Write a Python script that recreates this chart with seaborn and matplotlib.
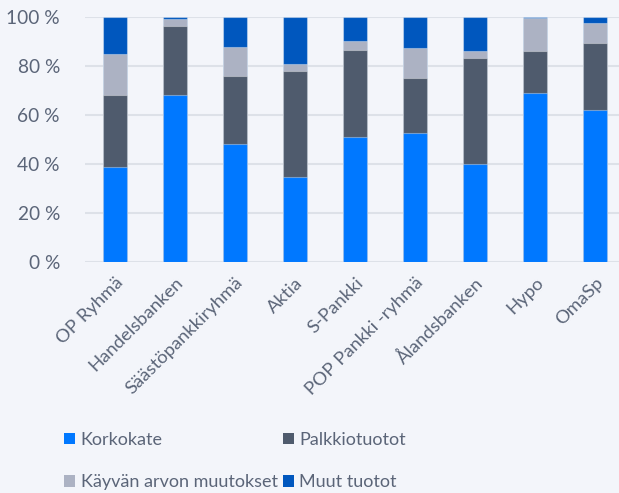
import numpy as np
import pandas as pd
import matplotlib
matplotlib.use("Agg")
import matplotlib.pyplot as plt
import seaborn as sns
from matplotlib.patches import Patch

banks = ["OP Ryhmä", "Handelsbanken", "Säästöpankkiryhmä", "Aktia", "S-Pankki",
         "POP Pankki -ryhmä", "Ålandsbanken", "Hypo", "OmaSp"]
korkokate = [38.8, 68.3, 48.2, 34.8, 51.0, 52.5, 39.9, 69.1, 61.9]
palkkiotuotot = [29.2, 28.2, 27.8, 43.3, 35.7, 22.6, 43.4, 17.0, 27.4]
kayvan_arvon = [16.9, 2.6, 11.8, 2.7, 3.6, 12.1, 2.8, 13.4, 8.3]
muut_tuotot = [15.1, 0.9, 12.2, 19.2, 9.7, 12.8, 13.9, 0.5, 2.4]

series_names = ["Korkokate", "Palkkiotuotot", "Käyvän arvon muutokset", "Muut tuotot"]
series_vals = [korkokate, palkkiotuotot, kayvan_arvon, muut_tuotot]
colors = ["#0078ff", "#4f5b6d", "#acb2c3", "#0057be"]

bg = "#f3f5fa"
txt = "#5b6578"

sns.set_theme(style="white")
plt.rcParams["font.family"] = ["Lato", "DejaVu Sans"]

fig = plt.figure(figsize=(6.19, 4.93), dpi=100, facecolor=bg)
ax = fig.add_axes([0.1373, 0.4686, 0.8627, 0.4969])
ax.set_facecolor(bg)

cum = np.cumsum(np.array(series_vals), axis=0)
# draw from top layer down so lower layers overlay
for i in range(len(series_names) - 1, -1, -1):
    df = pd.DataFrame({"bank": banks, "value": cum[i]})
    sns.barplot(data=df, x="bank", y="value", order=banks, color=colors[i],
                width=0.4, saturation=1, edgecolor=(1, 1, 1, 0.35), linewidth=0.8,
                ax=ax, zorder=3)

ax.set_ylim(0, 100)
ax.set_xlim(-0.5, 8.4)
ax.set_yticks([0, 20, 40, 60, 80, 100])
ax.set_yticklabels([f"{v} %" for v in [0, 20, 40, 60, 80, 100]])
ax.yaxis.grid(True, color="#dde1e8", linewidth=1.5, zorder=0)
ax.set_axisbelow(True)
for s in ax.spines.values():
    s.set_visible(False)
ax.set_xlabel("")
ax.set_ylabel("")
ax.tick_params(axis="y", length=0, pad=18, labelsize=13.8, labelcolor=txt)
ax.tick_params(axis="x", length=0, pad=9, labelsize=13.3, labelcolor=txt)
plt.setp(ax.get_xticklabels(), rotation=45, ha="right", rotation_mode="anchor")

order = [0, 2, 1, 3]
handles = [Patch(facecolor=colors[i], edgecolor="none") for i in order]
labels = [series_names[i] for i in order]
leg = fig.legend(handles, labels, ncol=2, loc="upper left", frameon=False,
                 fontsize=13, labelcolor=txt, handlelength=0.6, handleheight=0.6,
                 handletextpad=0.3, columnspacing=0.3, labelspacing=1.45,
                 borderaxespad=0, borderpad=0,
                 bbox_to_anchor=(0.104, 1 - 432 / 493))

fig.savefig("out.png", dpi=100, facecolor=bg)
